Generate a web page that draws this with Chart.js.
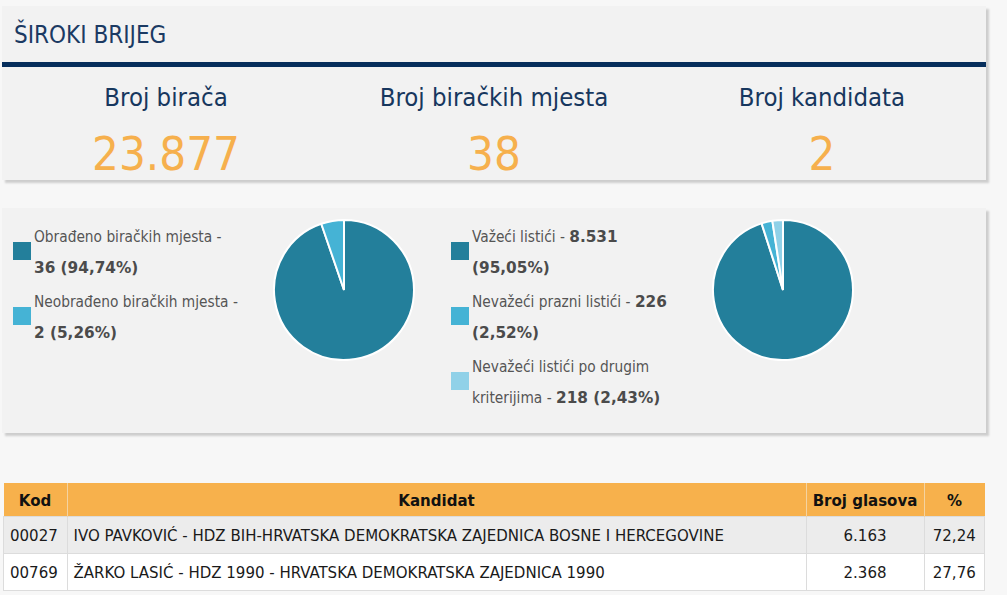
<!DOCTYPE html>
<html>
<head>
<meta charset="utf-8">
<script src="https://cdn.jsdelivr.net/npm/chart.js@4.4.0/dist/chart.umd.min.js"></script>
<style>
  body {
    margin: 0;
    width: 1007px;
    height: 595px;
    overflow: hidden;
    position: relative;
    background: #f7f7f7;
    font-family: "DejaVu Sans Condensed", "DejaVu Sans", sans-serif;
  }
  .card {
    position: absolute;
    left: 2px;
    width: 984px;
    background: #f2f2f2;
    box-shadow: 3px 3px 2px rgba(0, 0, 0, 0.17);
  }
  #summary { top: 6px; height: 174px; }
  #charts { top: 208px; height: 225px; }
  .title {
    position: absolute;
    left: 12px;
    top: 17px;
    font-size: 24px;
    line-height: 24px;
    color: #1b3a63;
  }
  .bar {
    position: absolute;
    left: 0;
    right: 0;
    top: 56px;
    height: 5px;
    background: #062e5c;
  }
  .stat {
    position: absolute;
    top: 76px;
    width: 328px;
    text-align: center;
  }
  .stat .label { font-size: 25.5px; line-height: 30px; color: #17375e; }
  .stat .value { font-size: 47px; line-height: 54px; color: #f6b04d; margin-top: 15px; }
  .legend {
    position: absolute;
    top: 14px;
    font-size: 15.3px;
    color: #555;
  }
  .legend .item { position: relative; padding-left: 21px; line-height: 31px; margin-bottom: 3px; white-space: nowrap; }
  .legend .item b { color: #4b4b4b; font-family: "DejaVu Sans", sans-serif; }
  .legend .sw { position: absolute; left: 0; top: 20px; width: 18px; height: 18px; }
  .pie { position: absolute; top: 11px; width: 142px; height: 142px; }
  table {
    position: absolute;
    left: 3px;
    top: 483px;
    width: 982px;
    border-collapse: collapse;
    font-size: 16.7px;
    color: #1a1a1a;
  }
  th { background: #f7b14c; height: 33px; font-weight: bold; color: #111; border-left: 1px solid #f4d3a0; padding: 0; }
  th:first-child { border-left: none; }
  td { height: 36px; border: 1px solid #dcdcdc; padding: 0 6px; }
  tr.odd td { background: #ececec; }
  tr.even td { background: #ffffff; }
  td.c { text-align: center; }
</style>
</head>
<body>

<div class="card" id="summary">
  <div class="title" id="cityTitle"></div>
  <div class="bar"></div>
  <div id="stats"></div>
</div>

<div class="card" id="charts">
  <div class="legend" id="stationLegend" style="left:11px;"></div>
  <div class="pie" style="left:271px;"><canvas id="stationPie"></canvas></div>
  <div class="legend" id="ballotLegend" style="left:449px;"></div>
  <div class="pie" style="left:710px;"><canvas id="ballotPie"></canvas></div>
</div>

<table id="results">
  <thead>
    <tr>
      <th style="width:63px;">Kod</th>
      <th>Kandidat</th>
      <th style="width:117px;">Broj glasova</th>
      <th style="width:60px;">%</th>
    </tr>
  </thead>
  <tbody id="resultsBody"></tbody>
</table>

<script>
const cityName = 'ŠIROKI BRIJEG';

const statLabels = ['Broj birača', 'Broj biračkih mjesta', 'Broj kandidata'];
const statValues = ['23.877', '38', '2'];

const stationLabels = ['Obrađeno biračkih mjesta', 'Neobrađeno biračkih mjesta'];
const stationValues = [36, 2];
const stationPercents = ['94,74%', '5,26%'];
// words kept on the first legend line, as the page wraps them
const stationWrap = [4, 4];

const ballotLabels = ['Važeći listići', 'Nevažeći prazni listići', 'Nevažeći listići po drugim kriterijima'];
const ballotValues = [8531, 226, 218];
const ballotPercents = ['95,05%', '2,52%', '2,43%'];
const ballotWrap = [4, 5, 4];

const pieColors = ['#237f9b', '#45b3d5', '#90d1e8'];

const candidateCodes = ['00027', '00769'];
const candidateNames = [
    'IVO PAVKOVIĆ - HDZ BIH-HRVATSKA DEMOKRATSKA ZAJEDNICA BOSNE I HERCEGOVINE',
    'ŽARKO LASIĆ - HDZ 1990 - HRVATSKA DEMOKRATSKA ZAJEDNICA 1990'
];
const candidateVotes = ['6.163', '2.368'];
const candidatePercents = ['72,24', '27,76'];

function formatNumber(n) {
    return n.toString().replace(/\B(?=(\d{3})+(?!\d))/g, '.');
}

function renderStats() {
    document.getElementById('cityTitle').textContent = cityName;
    document.getElementById('stats').innerHTML = statLabels.map((label, i) => `
        <div class="stat" style="left:${i * 328}px">
            <div class="label">${label}</div>
            <div class="value">${statValues[i]}</div>
        </div>
    `).join('');
}

function joinWords(words) {
    let html = '';
    let inBold = false;
    words.forEach((w, k) => {
        if (w.bold && !inBold) { html += (k ? ' ' : '') + '<b>'; inBold = true; }
        else if (k) html += ' ';
        html += w.text;
    });
    if (inBold) html += '</b>';
    return html;
}

function renderLegend(elementId, labels, values, percents, wrap) {
    document.getElementById(elementId).innerHTML = labels.map((label, i) => {
        const words = label.split(' ').concat('-').map(t => ({ text: t, bold: false }))
            .concat([formatNumber(values[i]), `(${percents[i]})`].map(t => ({ text: t, bold: true })));
        return `
        <div class="item">
            <span class="sw" style="background:${pieColors[i]}"></span>
            ${joinWords(words.slice(0, wrap[i]))}<br>${joinWords(words.slice(wrap[i]))}
        </div>`;
    }).join('');
}

function renderPie(canvasId, labels, values) {
    return new Chart(document.getElementById(canvasId), {
        type: 'pie',
        data: {
            labels: labels,
            datasets: [{
                data: values,
                backgroundColor: pieColors.slice(0, values.length),
                borderColor: '#ffffff',
                borderWidth: 2
            }]
        },
        options: {
            responsive: true,
            maintainAspectRatio: false,
            animation: false,
            plugins: {
                legend: { display: false },
                tooltip: { enabled: false }
            }
        }
    });
}

function renderTable() {
    document.getElementById('resultsBody').innerHTML = candidateCodes.map((code, i) => `
        <tr class="${i % 2 === 0 ? 'odd' : 'even'}">
            <td>${code}</td>
            <td>${candidateNames[i]}</td>
            <td class="c">${candidateVotes[i]}</td>
            <td class="c">${candidatePercents[i]}</td>
        </tr>
    `).join('');
}

renderStats();
renderLegend('stationLegend', stationLabels, stationValues, stationPercents, stationWrap);
renderLegend('ballotLegend', ballotLabels, ballotValues, ballotPercents, ballotWrap);
renderPie('stationPie', stationLabels, stationValues);
renderPie('ballotPie', ballotLabels, ballotValues);
renderTable();
</script>
</body>
</html>
